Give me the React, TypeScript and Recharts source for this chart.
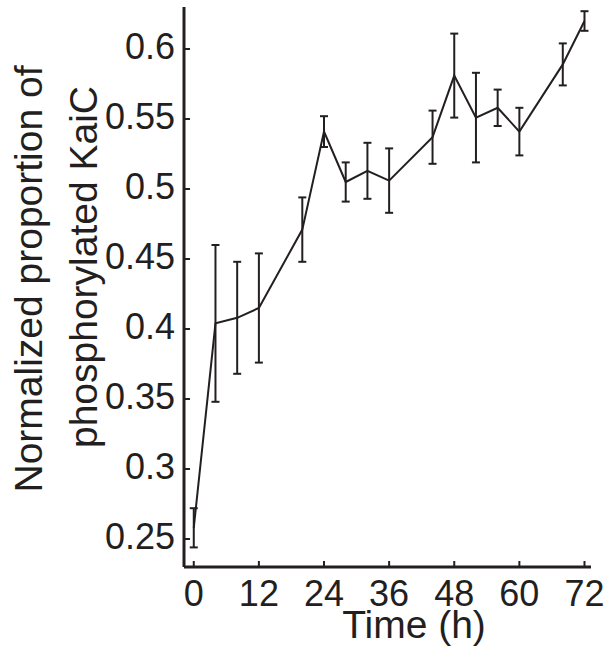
import React from "react";
import { LineChart, Line, XAxis, YAxis, ErrorBar } from "recharts";

const INK = "#231f20";
const FONT = "'Liberation Sans', Arial, Helvetica, sans-serif";

// time points (h), mean normalized phospho-KaiC and error (half-length of bar)
const times = [0, 4, 8, 12, 20, 24, 28, 32, 36, 44, 48, 52, 56, 60, 68, 72];
const means = [0.258, 0.404, 0.408, 0.415, 0.471, 0.541, 0.505, 0.513, 0.506, 0.537, 0.581, 0.551, 0.558, 0.541, 0.589, 0.62];
const errors = [0.014, 0.056, 0.04, 0.039, 0.023, 0.011, 0.014, 0.02, 0.023, 0.019, 0.03, 0.032, 0.013, 0.017, 0.015, 0.007];

const xTicks = [0, 12, 24, 36, 48, 60, 72];
const yTicks = [0.25, 0.3, 0.35, 0.4, 0.45, 0.5, 0.55, 0.6];

const data = times.map((t, i) => ({ t, mean: means[i], err: errors[i] }));

const XTick = (props: any) => {
  const { x, y, payload } = props;
  return (
    <g>
      <line x1={x} x2={x} y1={y} y2={y - 6} stroke={INK} strokeWidth={2} />
      <text x={x} y={y + 39} textAnchor="middle" fontSize={36} fontFamily={FONT} fill={INK}>
        {payload.value}
      </text>
    </g>
  );
};

const YTick = (props: any) => {
  const { x, y, payload } = props;
  return (
    <g>
      <line x1={x} x2={x + 6} y1={y} y2={y} stroke={INK} strokeWidth={2} />
      <text x={x - 9} y={y + 10} textAnchor="end" fontSize={36} fontFamily={FONT} fill={INK}>
        {String(payload.value)}
      </text>
    </g>
  );
};

const YLabel = () => (
  <g fontSize={39} fontFamily={FONT} fill={INK} textAnchor="middle">
    <text transform="translate(42, 279) rotate(-90)">Normalized proportion of</text>
    <text transform="translate(97, 267) rotate(-90)">phosphorylated KaiC</text>
  </g>
);

const XLabel = () => (
  <text x={414} y={638} textAnchor="middle" fontSize={39} fontFamily={FONT} fill={INK}>
    Time (h)
  </text>
);

export default function App() {
  return (
    <div style={{ position: "absolute", left: 0, top: 0, width: 612, height: 652, background: "#fff" }}>
      <LineChart width={612} height={652} data={data} margin={{ top: 7, right: 21, left: 0, bottom: 0 }}>
        <XAxis
          dataKey="t"
          type="number"
          domain={[-1.8, 73.2]}
          ticks={xTicks}
          height={85}
          tickSize={0}
          tickMargin={0}
          tickLine={false}
          tick={<XTick />}
          axisLine={{ stroke: INK, strokeWidth: 3 }}
          label={<XLabel />}
          allowDataOverflow
        />
        <YAxis
          type="number"
          domain={[0.23, 0.63]}
          ticks={yTicks}
          width={184}
          tickSize={0}
          tickMargin={0}
          tickLine={false}
          tick={<YTick />}
          axisLine={{ stroke: INK, strokeWidth: 3 }}
          label={<YLabel />}
          allowDataOverflow
        />
        <Line
          dataKey="mean"
          stroke={INK}
          strokeWidth={2}
          dot={false}
          isAnimationActive={false}
        >
          <ErrorBar dataKey="err" direction="y" width={4} stroke={INK} strokeWidth={2} isAnimationActive={false} />
        </Line>
      </LineChart>
    </div>
  );
}
